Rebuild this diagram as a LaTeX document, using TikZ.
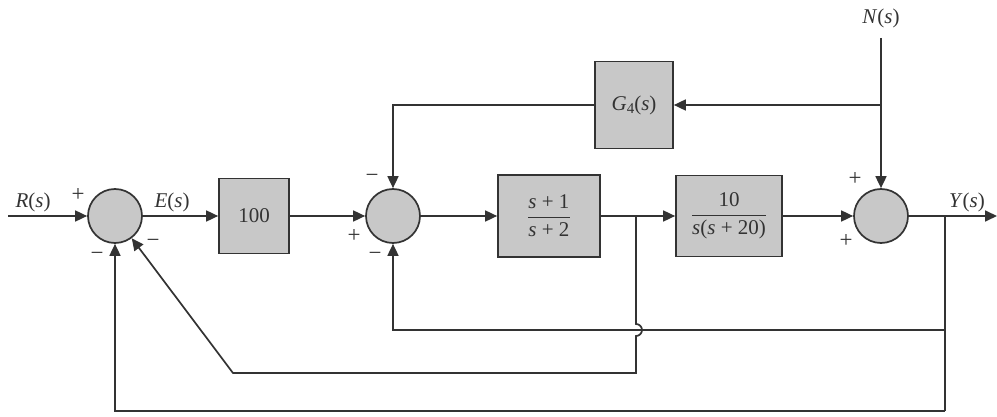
\documentclass[tikz,border=0pt]{standalone}
\usepackage{amsmath}
\usepackage{fontspec}
\setmainfont{Liberation Serif}
\usetikzlibrary{arrows.meta}
\definecolor{blockgray}{HTML}{C8C8C8}
\definecolor{linegray}{HTML}{333333}
\newcommand{\vv}[1]{\textit{#1}}
\begin{document}
\begin{tikzpicture}[x=1pt,y=-1pt,
  every node/.style={text=linegray},
  lbl/.style={font=\fontsize{21}{25}\selectfont, inner sep=0pt},
  sgn/.style={font=\fontsize{23}{26}\selectfont, inner sep=0pt},
  blk/.style={draw=linegray, line width=1.7pt, fill=blockgray, inner sep=0pt,
              font=\fontsize{21}{25}\selectfont},
  sumj/.style={circle, draw=linegray, line width=1.7pt, fill=blockgray,
               minimum size=54pt, inner sep=0pt},
  wire/.style={draw=linegray, line width=1.7pt},
  arr/.style={wire, -{Triangle[length=12pt,width=11pt]}}]
\useasboundingbox (0,0) rectangle (997,417);
% blocks and summing junctions
\node[sumj] (s1) at (115,216) {};
\node[blk, minimum width=70pt, minimum height=75pt] (b1) at (254,216) {100};
\node[sumj] (s2) at (393,216) {};
\node[blk, minimum width=102pt, minimum height=82pt] (b2) at (549,216)
  {$\dfrac{\mbox{\vv{s} + 1}}{\mbox{\vv{s} + 2}}$};
\node[blk, minimum width=106pt, minimum height=81pt] (b3) at (729,216)
  {$\dfrac{\mbox{10}}{\mbox{\vv{s}(\vv{s} + 20)}}$};
\node[sumj] (s3) at (881,216) {};
\node[blk, minimum width=78pt, minimum height=87pt] (g4) at (634,105)
  {\vv{G}\raisebox{-0.35ex}{\fontsize{15}{15}\selectfont 4}(\vv{s})};
% signal labels
\node[lbl] (rl) at (33,202) {\vv{R}(\vv{s})};
\node[lbl] (el) at (172,202) {\vv{E}(\vv{s})};
\node[lbl] (yl) at (967,202) {\vv{Y}(\vv{s})};
\node[lbl] (nl) at (881,18) {\vv{N}(\vv{s})};
% signs
\node[sgn] (p1) at (78,195) {+};
\node[sgn] (m1) at (97,256) {−};
\node[sgn] (m2) at (153,243) {−};
\node[sgn] (m3) at (372,178) {−};
\node[sgn] (p2) at (354,236) {+};
\node[sgn] (m4) at (375,256) {−};
\node[sgn] (p3) at (855,179) {+};
\node[sgn] (p4) at (846,241) {+};
% coordinates
\coordinate (rin) at (8,216);
\coordinate (yout) at (997,216);
\coordinate (yb) at (945,216);
\coordinate (ib) at (636,216);
\coordinate (ntop) at (881,38);
\coordinate (nb) at (881,105);
\coordinate (gc) at (393,105);
\coordinate (f1a) at (945,330);
\coordinate (f1b) at (393,330);
\coordinate (hopt) at (636,324);
\coordinate (f2a) at (636,373);
\coordinate (f2b) at (233,373);
\coordinate (f3a) at (945,411);
\coordinate (f3b) at (115,411);
% forward path
\draw[arr] (rin) -- (s1);
\draw[arr] (s1) -- (b1);
\draw[arr] (b1) -- (s2);
\draw[arr] (s2) -- (b2);
\draw[arr] (b2) -- (b3);
\draw[arr] (b3) -- (s3);
\draw[arr] (s3) -- (yout);
% disturbance
\draw[arr] (ntop) -- (s3);
\draw[arr] (nb) -- (g4);
\draw[arr] (g4) -- (gc) -- (s2);
% feedback paths
\draw[wire] (yb) -- (f3a);
\draw[arr] (f3a) -- (f3b) -- (s1);
\draw[arr] (f1a) -- (f1b) -- (s2);
\draw[arr] (ib) -- (hopt) arc[start angle=90, end angle=-90, radius=6pt]
  -- (f2a) -- (f2b) -- (s1);
\end{tikzpicture}
\end{document}
